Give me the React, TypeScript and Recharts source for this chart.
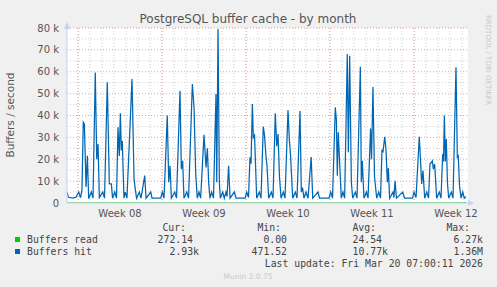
import { CartesianGrid, Line, LineChart, ReferenceLine, XAxis, YAxis } from 'recharts'

// x values are days counted from the Monday that starts week 08
const weekLabels = ['Week 08', 'Week 09', 'Week 10', 'Week 11', 'Week 12']
const weekCenters = [3.5, 10.5, 17.5, 24.5, 31.5]
const weekStarts = [0, 7, 14, 21, 28]
const yTicks = [0, 10000, 20000, 30000, 40000, 50000, 60000, 70000, 80000]

const hitDays = [
  -0.92, -0.79, -0.42, -0.17, 0.06, 0.21, 0.33, 0.44, 0.53, 0.67, 0.78, 0.89,
  1.11, 1.25, 1.44, 1.56, 1.67, 1.78, 2.06, 2.21, 2.44, 2.61, 2.78, 2.88,
  3.06, 3.21, 3.33, 3.44, 3.53, 3.61, 3.69, 3.83, 3.94, 4.08, 4.5, 4.67,
  4.78, 4.88, 5.11, 5.25, 5.56, 5.67, 6.06, 6.17, 6.89, 7.03, 7.17, 7.44,
  7.56, 7.67, 7.78, 8.06, 8.21, 8.5, 8.61, 8.72, 8.83, 9.06, 9.21, 9.53,
  9.67, 9.81, 9.94, 10.08, 10.22, 10.5, 10.67, 10.78, 10.89, 11.0, 11.14, 11.29,
  11.5, 11.56, 11.67, 11.78, 11.86, 12.06, 12.19, 12.33, 12.42, 12.55, 12.67, 13.03,
  13.17, 13.92, 14.06, 14.21, 14.33, 14.42, 14.53, 14.61, 14.71, 14.89, 15.11, 15.25,
  15.44, 15.54, 15.67, 15.75, 15.89, 16.11, 16.25, 16.44, 16.56, 16.67, 16.79, 16.92,
  17.11, 17.25, 17.5, 17.61, 17.71, 17.89, 18.11, 18.25, 18.5, 18.61, 18.71, 18.83,
  19.0, 19.17, 19.43, 19.56, 20.0, 20.13, 20.92, 21.06, 21.21, 21.44, 21.53, 21.61,
  21.69, 21.79, 21.94, 22.08, 22.22, 22.44, 22.53, 22.64, 22.78, 22.89, 23.11, 23.25,
  23.53, 23.61, 23.69, 23.83, 24.03, 24.17, 24.38, 24.46, 24.58, 24.71, 24.89, 25.06,
  25.21, 25.33, 25.42, 25.56, 25.67, 25.78, 25.86, 25.97, 26.25, 26.33, 26.42, 26.54,
  27.06, 27.21, 27.88, 28.0, 28.17, 28.44, 28.54, 28.64, 28.75, 28.89, 29.06, 29.21,
  29.33, 29.44, 29.53, 29.61, 29.72, 29.89, 30.11, 30.25, 30.39, 30.46, 30.53, 30.61,
  30.69, 30.79, 30.89, 31.11, 31.25, 31.5, 31.61, 31.69, 31.79, 31.92, 32.06, 32.19,
  32.33,
]

// buffers hit, in thousands per second
const hitValues = [
  4.9, 2.6, 2.2, 2.6, 5.0, 2.4, 6.0, 36.9, 36.0, 7.3, 21.6, 2.0,
  5.0, 2.2, 59.7, 20.0, 27.0, 2.5, 5.0, 2.2, 55.2, 8.7, 8.7, 2.2,
  5.0, 2.2, 34.6, 21.5, 41.0, 24.0, 28.5, 2.2, 5.0, 2.2, 56.7, 11.0,
  6.0, 2.2, 5.0, 2.2, 12.5, 2.2, 5.0, 2.2, 2.2, 5.0, 2.2, 40.0,
  9.5, 17.0, 2.2, 5.0, 2.2, 51.3, 15.5, 19.3, 2.2, 5.0, 2.2, 54.4,
  43.7, 13.0, 2.2, 5.0, 2.2, 31.2, 16.3, 25.0, 9.0, 2.2, 5.0, 2.2,
  49.8, 9.5, 79.5, 9.5, 2.2, 5.0, 2.2, 5.0, 3.0, 17.0, 2.2, 5.0,
  2.2, 2.2, 5.0, 2.5, 20.9, 18.0, 45.3, 30.0, 31.0, 2.2, 5.0, 2.2,
  34.9, 31.0, 21.0, 17.0, 2.2, 5.0, 2.2, 41.0, 26.0, 31.5, 12.0, 2.2,
  5.0, 2.2, 42.5, 29.0, 22.0, 2.2, 5.0, 2.2, 42.0, 5.0, 7.0, 2.2,
  5.0, 2.2, 21.0, 2.2, 5.0, 2.2, 2.2, 5.0, 2.2, 43.7, 38.0, 12.5,
  32.3, 20.0, 2.2, 5.0, 2.2, 68.1, 23.2, 67.3, 9.5, 2.2, 5.0, 2.2,
  62.3, 9.5, 19.3, 2.2, 5.0, 2.2, 34.0, 20.0, 53.0, 12.0, 2.2, 5.0,
  2.2, 24.0, 23.5, 30.3, 24.0, 9.5, 16.0, 2.2, 5.0, 2.5, 10.2, 2.2,
  5.0, 2.2, 2.2, 5.0, 2.5, 30.3, 20.0, 8.7, 14.8, 2.2, 5.0, 2.2,
  17.8, 18.5, 19.3, 15.5, 17.8, 2.2, 5.0, 2.2, 22.4, 19.0, 40.0, 19.0,
  29.3, 9.0, 2.2, 5.0, 2.2, 62.0, 21.0, 21.6, 8.0, 2.2, 5.0, 2.2,
  2.93,
]

const readDays = [
  -0.92, 0, 1, 2, 3, 4, 5, 6, 7, 8, 9, 10, 11, 12, 13, 14, 15, 16, 17,
  18, 19, 20, 21, 22, 23, 24, 25, 26, 27, 28, 29, 30, 31, 32, 32.33,
]
const readValues = [
  12, 8, 35, 41, 30, 38, 22, 6, 5, 33, 40, 29, 45, 20, 7, 6, 31, 36, 28,
  34, 19, 5, 6, 39, 44, 30, 27, 18, 6, 5, 25, 33, 37, 21, 272,
]

const hitData = hitDays.map((day, i) => ({ day, hit: hitValues[i] * 1000 }))
const readData = readDays.map((day, i) => ({ day, read: readValues[i] }))

const days = Array.from({ length: 33 }, (_, i) => i)
const minorY = [5000, 15000, 25000, 35000, 45000, 55000, 65000, 75000]

const axisFont = { fontFamily: 'DejaVu Sans', fontSize: 10, fill: '#555' }
const mono = 'DejaVu Sans Mono'

function App() {
  return (
    <div
      style={{
        position: 'fixed',
        top: 0,
        left: 0,
        width: 497,
        height: 287,
        background: '#f0f0f0',
      }}
    >
      <LineChart
        width={497}
        height={287}
        margin={{ top: 28, right: 29, bottom: 64, left: 27 }}
      >
        <CartesianGrid fill="#ffffff" horizontal={false} vertical={false} />
        <XAxis
          type="number"
          dataKey="day"
          domain={[-0.917, 32.5]}
          ticks={weekCenters}
          tickFormatter={(v: number) => weekLabels[weekCenters.indexOf(v)]}
          allowDataOverflow
          height={20}
          tickLine={false}
          tickSize={5}
          tickMargin={2}
          axisLine={{ stroke: '#c9cff5' }}
          tick={axisFont}
        />
        <YAxis
          type="number"
          domain={[0, 80000]}
          ticks={yTicks}
          tickFormatter={(v: number) => (v === 0 ? '0' : `${v / 1000} k`)}
          allowDataOverflow
          width={40}
          tickLine={false}
          axisLine={{ stroke: '#c9cff5' }}
          tick={axisFont}
        />

        {days.map((d) => (
          <ReferenceLine key={`d${d}`} x={d} stroke="#cfcfcf" strokeDasharray="1 2" />
        ))}
        {minorY.map((v) => (
          <ReferenceLine key={`m${v}`} y={v} stroke="#cfcfcf" strokeDasharray="1 2" />
        ))}
        {weekStarts.map((d) => (
          <ReferenceLine key={`w${d}`} x={d} stroke="#e9a3a3" strokeDasharray="1 2" />
        ))}
        {yTicks.slice(1).map((v) => (
          <ReferenceLine key={`y${v}`} y={v} stroke="#e9a3a3" strokeDasharray="1 2" />
        ))}

        <Line
          data={readData}
          dataKey="read"
          type="linear"
          stroke="#00cc00"
          strokeWidth={1}
          dot={false}
          isAnimationActive={false}
        />
        <Line
          data={hitData}
          dataKey="hit"
          type="linear"
          stroke="#0066b3"
          strokeWidth={1.25}
          dot={false}
          isAnimationActive={false}
        />
      </LineChart>

      <svg
        width={497}
        height={287}
        style={{ position: 'absolute', top: 0, left: 0, pointerEvents: 'none' }}
      >
        <polygon points="64,29 70,29 67,22" fill="#c9cff5" />
        <polygon points="468,200 468,206 474,203" fill="#c9cff5" />
        <text
          x={248}
          y={23}
          textAnchor="middle"
          fontFamily="DejaVu Sans"
          fontSize={12}
          fill="#555"
        >
          PostgreSQL buffer cache - by month
        </text>
        <text
          x={14}
          y={115}
          transform="rotate(-90 14 115)"
          textAnchor="middle"
          fontFamily="DejaVu Sans"
          fontSize={10.5}
          fill="#555"
        >
          Buffers / second
        </text>
        <text
          x={486}
          y={15}
          transform="rotate(90 486 15)"
          fontFamily="DejaVu Sans"
          fontSize={7}
          fill="#c8c8c8"
        >
          RRDTOOL / TOBI OETIKER
        </text>

        <g fontFamily={mono} fontSize={9.8} fill="#444">
          <text x={186} y={231} textAnchor="end">Cur:</text>
          <text x={281} y={231} textAnchor="end">Min:</text>
          <text x={376} y={231} textAnchor="end">Avg:</text>
          <text x={470} y={231} textAnchor="end">Max:</text>

          <rect x={15} y={237} width={5} height={5} fill="#00cc00" />
          <text x={27} y={243}>Buffers read</text>
          <text x={193} y={243} textAnchor="end">272.14</text>
          <text x={287} y={243} textAnchor="end">0.00</text>
          <text x={382} y={243} textAnchor="end">24.54</text>
          <text x={483} y={243} textAnchor="end">6.27k</text>

          <rect x={15} y={249} width={5} height={5} fill="#0066b3" />
          <text x={27} y={255}>Buffers hit</text>
          <text x={199} y={255} textAnchor="end">2.93k</text>
          <text x={287} y={255} textAnchor="end">471.52</text>
          <text x={388} y={255} textAnchor="end">10.77k</text>
          <text x={483} y={255} textAnchor="end">1.36M</text>

          <text x={483} y={267} textAnchor="end">Last update: Fri Mar 20 07:00:11 2026</text>
        </g>
        <text
          x={248}
          y={279}
          textAnchor="middle"
          fontFamily="DejaVu Sans"
          fontSize={7.5}
          fill="#c8c8c8"
        >
          Munin 2.0.75
        </text>
      </svg>
    </div>
  )
}

export default App
